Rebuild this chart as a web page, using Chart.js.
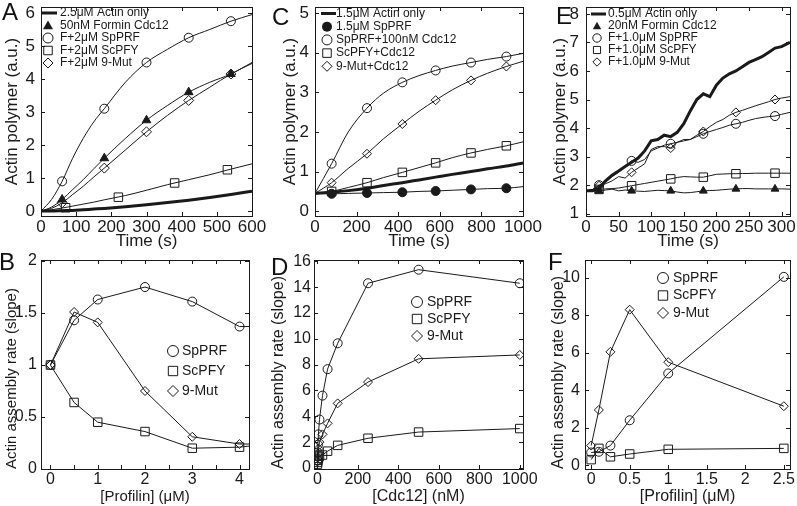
<!DOCTYPE html>
<html>
<head>
<meta charset="utf-8">
<script src="https://cdn.jsdelivr.net/npm/chart.js@4.4.1/dist/chart.umd.min.js"></script>
<style>
  body { margin: 0; background: #fff; }
  #fig { position: relative; width: 797px; height: 506px; overflow: hidden;
         font-family: "Liberation Sans", Arial, Helvetica, sans-serif; }
  #fig canvas { position: absolute; left: 0; top: 0; }
  .lab { position: absolute; font-size: 24px; line-height: 24px; color: #111; }
</style>
</head>
<body>
<div id="fig">
  <canvas id="cA" width="797" height="506"></canvas>
  <canvas id="cB" width="797" height="506"></canvas>
  <canvas id="cC" width="797" height="506"></canvas>
  <canvas id="cD" width="797" height="506"></canvas>
  <canvas id="cE" width="797" height="506"></canvas>
  <canvas id="cF" width="797" height="506"></canvas>
  <div class="lab" style="left:2px;top:0px">A</div>
  <div class="lab" style="left:-1px;top:250px">B</div>
  <div class="lab" style="left:272px;top:5px">C</div>
  <div class="lab" style="left:271px;top:255px">D</div>
  <div class="lab" style="left:556px;top:4px">E</div>
  <div class="lab" style="left:548px;top:250px">F</div>
</div>
<script>
// ---- Panel A: 2.5uM actin, 50nM Cdc12 ----
const aTime = [0, 30, 60, 90, 120, 150, 180, 240, 300, 360, 420, 480, 540, 600];
const aActinOnly = [0, 0, 0.01, 0.02, 0.04, 0.06, 0.08, 0.13, 0.19, 0.26, 0.33, 0.41, 0.5, 0.6];
const aFormin = [0, 0.12, 0.35, 0.65, 0.95, 1.28, 1.6, 2.2, 2.75, 3.2, 3.6, 3.9, 4.15, 4.5];
const aSpPRF = [0, 0.35, 0.9, 1.6, 2.2, 2.7, 3.1, 3.9, 4.5, 4.9, 5.25, 5.5, 5.75, 5.95];
const aScPFY = [0, 0.04, 0.09, 0.15, 0.21, 0.27, 0.34, 0.47, 0.63, 0.8, 0.95, 1.1, 1.27, 1.43];
const aNineMut = [0, 0.08, 0.25, 0.5, 0.75, 1.03, 1.3, 1.85, 2.4, 2.9, 3.35, 3.75, 4.15, 4.47];
const aMarkTime = [60, 180, 300, 420, 540];
const aFormin_m = [0.35, 1.6, 2.75, 3.6, 4.15];
const aSpPRF_m = [0.9, 3.1, 4.5, 5.25, 5.75];
const aNineMut_m = [0.25, 1.3, 2.4, 3.35, 4.15];
const aScPFYTime = [70, 220, 380, 530];
const aScPFY_m = [0.1, 0.42, 0.85, 1.25];
const aXTicks = [0, 100, 200, 300, 400, 500, 600];
const aYTicks = [0, 1, 2, 3, 4, 5, 6];

// ---- Panel C: 1.5uM actin, 100nM Cdc12 ----
const cTime = [0, 80, 160, 250, 330, 420, 500, 580, 660, 750, 830, 920, 1000];
const cActinOnly = [0.45, 0.48, 0.52, 0.58, 0.65, 0.72, 0.79, 0.86, 0.93, 1.0, 1.07, 1.14, 1.22];
const cSpPRF = [0.45, 0.44, 0.45, 0.46, 0.47, 0.48, 0.5, 0.51, 0.53, 0.55, 0.57, 0.58, 0.62];
const cSpPRFCdc12 = [0.45, 1.2, 2.0, 2.6, 2.98, 3.25, 3.42, 3.55, 3.66, 3.75, 3.83, 3.9, 3.98];
const cScPFYCdc12 = [0.45, 0.5, 0.6, 0.72, 0.85, 0.98, 1.1, 1.22, 1.35, 1.47, 1.56, 1.65, 1.75];
const cNineMutCdc12 = [0.45, 0.72, 1.08, 1.45, 1.83, 2.2, 2.52, 2.8, 3.06, 3.3, 3.48, 3.65, 3.78];
const cMarkTime = [80, 250, 420, 580, 750, 920];
const cSpPRF_m = [0.44, 0.46, 0.48, 0.51, 0.55, 0.58];
const cSpPRFCdc12_m = [1.2, 2.6, 3.25, 3.55, 3.75, 3.9];
const cScPFYCdc12_m = [0.5, 0.72, 0.98, 1.22, 1.47, 1.65];
const cNineMutCdc12_m = [0.72, 1.45, 2.2, 2.8, 3.3, 3.65];
const cXTicks = [0, 200, 400, 600, 800, 1000];
const cYTicks = [0, 1, 2, 3, 4, 5];

// ---- Panel E: 0.5uM actin, 20nM Cdc12 ----
const eTime = [0, 10, 20, 30, 40, 50, 60, 70, 80, 90, 100, 110, 120, 130, 140, 150,
  160, 170, 180, 190, 200, 210, 220, 230, 240, 250, 260, 270, 280, 290, 300, 313];
const eActinOnly = [1.8, 1.8, 1.9, 2.15, 2.35, 2.5, 2.65, 2.8, 2.95, 3.2,
  3.55, 3.6, 3.75, 3.7, 3.85, 4.15, 4.6, 5.0, 5.2, 5.1,
  5.5, 5.75, 5.9, 6.0, 6.15, 6.3, 6.4, 6.5, 6.65, 6.8, 6.85, 7.0];
const eFormin = [1.78, 1.79, 1.8, 1.83, 1.86, 1.8, 1.83, 1.8, 1.79, 1.78,
  1.8, 1.82, 1.81, 1.8, 1.76, 1.73, 1.74, 1.77, 1.8, 1.81,
  1.82, 1.84, 1.86, 1.87, 1.88, 1.88, 1.87, 1.87, 1.87, 1.87, 1.87, 1.86];
const eSpPRF = [1.8, 1.85, 2.0, 2.1, 2.3, 2.45, 2.65, 2.85, 2.8, 2.9,
  3.2, 3.3, 3.4, 3.45, 3.5, 3.55, 3.6, 3.7, 3.8, 3.88,
  3.95, 4.02, 4.1, 4.15, 4.2, 4.27, 4.33, 4.37, 4.4, 4.42, 4.48, 4.55];
const eScPFY = [1.8, 1.82, 1.85, 1.87, 1.88, 1.9, 1.94, 1.98, 2.02, 2.06,
  2.1, 2.14, 2.18, 2.22, 2.27, 2.3, 2.29, 2.28, 2.28, 2.33,
  2.38, 2.39, 2.4, 2.4, 2.41, 2.41, 2.42, 2.42, 2.42, 2.42, 2.42, 2.42];
const eNineMut = [1.8, 1.85, 1.98, 2.05, 2.15, 2.3, 2.25, 2.45, 2.6, 2.75,
  3.25, 3.35, 3.35, 3.3, 3.5, 3.6, 3.6, 3.75, 3.88, 4.05,
  4.2, 4.3, 4.45, 4.55, 4.62, 4.7, 4.78, 4.85, 4.92, 5.0, 5.05, 5.1];
const eMarkTime = [20, 70, 130, 180, 230, 290];
const eFormin_m = [1.8, 1.8, 1.8, 1.8, 1.87, 1.87];
const eSpPRF_m = [2.0, 2.85, 3.45, 3.8, 4.15, 4.42];
const eScPFY_m = [1.85, 1.98, 2.22, 2.28, 2.4, 2.42];
const eNineMut_m = [1.98, 2.45, 3.3, 3.88, 4.55, 5.0];
const eXTicks = [0, 50, 100, 150, 200, 250, 300];
const eYTicks = [1, 2, 3, 4, 5, 6, 7, 8];

// ---- Panel B: rate vs [profilin] ----
const bProfilin = [0, 0.5, 1, 2, 3, 4, 4.2];
const bSpPRF = [1, 1.43, 1.63, 1.75, 1.61, 1.37, 1.37];
const bScPFY = [1, 0.64, 0.45, 0.36, 0.2, 0.21, 0.22];
const bNineMut = [1, 1.51, 1.41, 0.75, 0.31, 0.24, 0.24];
const bXTicks = [0, 0.5, 1, 1.5, 2, 2.5, 3, 3.5, 4];
const bYTicks = [0, 0.5, 1, 1.5, 2];

// ---- Panel D: rate vs [Cdc12] ----
const dCdc12 = [0, 1, 2.5, 5, 10, 25, 50, 100, 250, 500, 1000];
const dSpPRF = [0.6, 1.2, 1.8, 2.6, 3.75, 5.6, 7.65, 9.65, 14.3, 15.35, 14.3];
const dScPFY = [0.3, 0.45, 0.6, 0.75, 0.9, 1.0, 1.3, 1.75, 2.3, 2.78, 3.05];
const dNineMut = [0.5, 0.8, 1.1, 1.5, 2.0, 2.6, 3.45, 5.0, 6.65, 8.45, 8.75];
const dXTicks = [0, 200, 400, 600, 800, 1000];
const dYTicks = [0, 2, 4, 6, 8, 10, 12, 14, 16];

// ---- Panel F: rate vs [profilin], 20nM Cdc12 ----
const fProfilin = [0, 0.1, 0.25, 0.5, 1, 2.5];
const fSpPRF = [0.68, 0.72, 1.05, 2.4, 4.9, 10.05];
const fScPFY = [0.3, 0.9, 0.45, 0.6, 0.85, 0.9];
const fNineMut = [1.05, 2.95, 6.05, 8.3, 5.5, 3.15];
const fXTicks = [0, 0.5, 1, 1.5, 2, 2.5];
const fYTicks = [0, 2, 4, 6, 8, 10];

const FONT = '"Liberation Sans", Arial, Helvetica, sans-serif';
const INK = '#1a1a1a';
Chart.defaults.font.family = FONT;
Chart.defaults.color = INK;

function xy(xs, ys) {
  return ys.map((v, i) => ({ x: xs[i], y: v }));
}

function curve(xs, ys, width, smooth) {
  return {
    data: xy(xs, ys), showLine: true, borderColor: INK, borderWidth: width,
    pointRadius: 0, tension: 0, cubicInterpolationMode: smooth ? 'monotone' : 'default'
  };
}

function marks(xs, ys, style, r, filled) {
  return {
    data: xy(xs, ys), showLine: false, pointStyle: style, pointRadius: r,
    pointBorderColor: INK, pointBorderWidth: 1, clip: 8,
    pointBackgroundColor: filled ? INK : 'rgba(0,0,0,0)'
  };
}

// line + markers; points past nMarks are only line continuation
function series(xs, ys, style, r, nMarks) {
  return {
    data: xy(xs, ys), showLine: true, borderColor: INK, borderWidth: 1, tension: 0,
    pointStyle: style, pointRadius: c => (c.dataIndex < nMarks ? r : 0),
    pointBorderColor: INK, pointBorderWidth: 1, pointBackgroundColor: 'rgba(0,0,0,0)'
  };
}

function drawSymbol(ctx, sym, x, y, r) {
  ctx.beginPath();
  ctx.lineWidth = 1;
  ctx.strokeStyle = INK;
  ctx.fillStyle = INK;
  if (sym === 'thick') {
    ctx.lineWidth = 3;
    ctx.moveTo(x - 6, y);
    ctx.lineTo(x + 9, y);
    ctx.stroke();
  } else if (sym === 'circle' || sym === 'dot') {
    ctx.arc(x, y, r, 0, Math.PI * 2);
    sym === 'dot' ? ctx.fill() : ctx.stroke();
  } else if (sym === 'square') {
    const s = r * 0.85;
    ctx.rect(x - s, y - s, 2 * s, 2 * s);
    ctx.stroke();
  } else if (sym === 'diamond') {
    ctx.moveTo(x, y - r); ctx.lineTo(x + r, y); ctx.lineTo(x, y + r); ctx.lineTo(x - r, y);
    ctx.closePath();
    ctx.stroke();
  } else if (sym === 'triangle') {
    ctx.moveTo(x, y - r); ctx.lineTo(x + r, y + r * 0.75); ctx.lineTo(x - r, y + r * 0.75);
    ctx.closePath();
    ctx.fill();
  }
}

function legendPlugin(L) {
  return {
    id: 'panelLegend',
    afterDraw(chart) {
      const ctx = chart.ctx;
      ctx.save();
      L.items.forEach((it, i) => {
        const y = L.y + i * L.dy;
        drawSymbol(ctx, it[0], L.sx, y, L.r);
        ctx.font = L.size + 'px ' + FONT;
        ctx.textBaseline = 'middle';
        ctx.fillStyle = INK;
        ctx.fillText(it[1], L.tx, y);
      });
      ctx.restore();
    }
  };
}

// axis box with inward tick marks on all four sides
const framePlugin = {
  id: 'frame',
  afterDatasetsDraw(chart) {
    const { ctx, chartArea: a, scales } = chart;
    const L = 4;
    ctx.save();
    ctx.strokeStyle = INK;
    ctx.lineWidth = 1;
    ctx.beginPath();
    scales.x.ticks.forEach(t => {
      const px = Math.round(scales.x.getPixelForValue(t.value)) + 0.5;
      ctx.moveTo(px, a.bottom); ctx.lineTo(px, a.bottom - L);
      ctx.moveTo(px, a.top); ctx.lineTo(px, a.top + L);
    });
    scales.y.ticks.forEach(t => {
      const py = Math.round(scales.y.getPixelForValue(t.value)) + 0.5;
      ctx.moveTo(a.left, py); ctx.lineTo(a.left + L, py);
      ctx.moveTo(a.right, py); ctx.lineTo(a.right - L, py);
    });
    ctx.stroke();
    ctx.strokeRect(Math.round(a.left) + 0.5, Math.round(a.top) + 0.5,
      Math.round(a.right - a.left), Math.round(a.bottom - a.top));
    ctx.restore();
  }
};

function makePanel(id, p) {
  const TS = p.tickSize, HS = p.titleSize;
  const scaleLeft = p.yTitleX - HS / 2;
  const scaleBottom = p.xTitleY + HS / 2;
  const xLabel = p.xLabel || (v => String(v));
  new Chart(document.getElementById(id), {
    type: 'line',
    data: { datasets: p.datasets },
    options: {
      responsive: false,
      animation: false,
      devicePixelRatio: 1,
      events: [],
      layout: { padding: { left: scaleLeft, top: p.box.t, right: 797 - p.box.r, bottom: 506 - scaleBottom } },
      plugins: { legend: { display: false }, tooltip: { enabled: false } },
      scales: {
        x: {
          type: 'linear', min: p.xMin, max: p.xMax,
          grid: { display: false, drawTicks: false }, border: { display: false },
          ticks: { autoSkip: false, maxRotation: 0, padding: 1, font: { size: TS }, color: INK, callback: xLabel },
          title: { display: true, text: p.xTitle, font: { size: HS, lineHeight: 1 }, padding: 0, color: INK },
          afterBuildTicks: s => { s.ticks = p.xTicks.map(v => ({ value: v })); },
          afterFit: s => {
            s.height = scaleBottom - p.box.b;
            s.paddingLeft = 0; s.paddingRight = 0;
          }
        },
        y: {
          type: 'linear', min: p.yMin, max: p.yMax,
          grid: { display: false, drawTicks: false }, border: { display: false },
          ticks: { autoSkip: false, padding: p.yPad, font: { size: TS }, color: INK, callback: v => String(v) },
          title: { display: true, text: p.yTitle, align: p.yAlign || 'center', font: { size: HS, lineHeight: 1 }, padding: 0, color: INK },
          afterBuildTicks: s => { s.ticks = p.yTicks.map(v => ({ value: v })); },
          afterFit: s => {
            s.width = p.box.l - scaleLeft;
            s.paddingTop = 0; s.paddingBottom = 0;
          }
        }
      }
    },
    plugins: [framePlugin, legendPlugin(p.legend)]
  });
}

const POLY = 'Actin polymer (a.u.)';
const RATE = 'Actin assembly rate (slope)';

makePanel('cA', {
  box: { l: 41, t: 4, r: 252, b: 216 }, xMin: 0, xMax: 600, yMin: -0.15, yMax: 6.18,
  xTicks: aXTicks, yTicks: aYTicks, xTitle: 'Time (s)', yTitle: POLY,
  tickSize: 17, titleSize: 17, yTitleX: 12, xTitleY: 241, yPad: 6,
  datasets: [
    curve(aTime, aActinOnly, 3, true),
    curve(aTime, aFormin, 1, true),
    curve(aTime, aSpPRF, 1, true),
    curve(aTime, aScPFY, 1, true),
    curve(aTime, aNineMut, 1, true),
    marks(aMarkTime, aFormin_m, 'triangle', 5, true),
    marks(aMarkTime, aSpPRF_m, 'circle', 4.5, false),
    marks(aScPFYTime, aScPFY_m, 'rect', 6, false),
    marks(aMarkTime, aNineMut_m, 'rectRot', 5, false)
  ],
  legend: { sx: 48, tx: 60, y: 13, dy: 12.5, r: 5, size: 12, items: [
    ['thick', '2.5μM Actin only'], ['triangle', '50nM Formin Cdc12'], ['circle', 'F+2μM SpPRF'],
    ['square', 'F+2μM ScPFY'], ['diamond', 'F+2μM 9-Mut']] }
});

makePanel('cC', {
  box: { l: 315, t: 4, r: 523, b: 216 }, xMin: 0, xMax: 1000, yMin: -0.12, yMax: 5.15,
  xTicks: cXTicks, yTicks: cYTicks, xTitle: 'Time (s)', yTitle: POLY,
  tickSize: 17, titleSize: 17, yTitleX: 290, xTitleY: 241, yPad: 6,
  datasets: [
    curve(cTime, cActinOnly, 3, true),
    curve(cTime, cSpPRF, 1, true),
    curve(cTime, cSpPRFCdc12, 1, true),
    curve(cTime, cScPFYCdc12, 1, true),
    curve(cTime, cNineMutCdc12, 1, true),
    marks(cMarkTime, cSpPRF_m, 'circle', 4.5, true),
    marks(cMarkTime, cSpPRFCdc12_m, 'circle', 4.5, false),
    marks(cMarkTime, cScPFYCdc12_m, 'rect', 6, false),
    marks(cMarkTime, cNineMutCdc12_m, 'rectRot', 4.5, false)
  ],
  legend: { sx: 327, tx: 336, y: 13.5, dy: 13.2, r: 5, size: 12, items: [
    ['thick', '1.5μM Actin only'], ['dot', '1.5μM SpPRF'], ['circle', 'SpPRF+100nM Cdc12'],
    ['square', 'ScPFY+Cdc12'], ['diamond', '9-Mut+Cdc12']] }
});

makePanel('cE', {
  box: { l: 586, t: 4, r: 793, b: 216 }, xMin: 0, xMax: 313, yMin: 0.92, yMax: 8.24,
  xTicks: eXTicks, yTicks: eYTicks, xTitle: 'Time (s)', yTitle: POLY,
  tickSize: 17, titleSize: 17, yTitleX: 560, xTitleY: 241, yPad: 7,
  datasets: [
    curve(eTime, eActinOnly, 3, false),
    curve(eTime, eFormin, 1, false),
    curve(eTime, eSpPRF, 1, false),
    curve(eTime, eScPFY, 1, false),
    curve(eTime, eNineMut, 1, false),
    marks(eMarkTime, eFormin_m, 'triangle', 4.5, true),
    marks(eMarkTime, eSpPRF_m, 'circle', 4.5, false),
    marks(eMarkTime, eScPFY_m, 'rect', 6, false),
    marks(eMarkTime, eNineMut_m, 'rectRot', 4.5, false)
  ],
  legend: { sx: 597, tx: 608, y: 14, dy: 12, r: 4.2, size: 12, items: [
    ['thick', '0.5μM Actin only'], ['triangle', '20nM Formin Cdc12'], ['circle', 'F+1.0μM SpPRF'],
    ['square', 'F+1.0μM ScPFY'], ['diamond', 'F+1.0μM 9-Mut']] }
});

makePanel('cB', {
  box: { l: 41, t: 260, r: 249, b: 469 }, xMin: -0.2, xMax: 4.2, yMin: 0, yMax: 2.01,
  xTicks: bXTicks, yTicks: bYTicks, xTitle: '[Profilin] (μM)', yTitle: RATE, yAlign: 'start',
  xLabel: v => (Number.isInteger(v) ? String(v) : ''),
  tickSize: 16, titleSize: 15, yTitleX: 12, xTitleY: 497, yPad: 4,
  datasets: [
    series(bProfilin, bSpPRF, 'circle', 4.5, 6),
    series(bProfilin, bScPFY, 'rect', 6, 6),
    series(bProfilin, bNineMut, 'rectRot', 4.5, 6)
  ],
  legend: { sx: 173, tx: 182, y: 351, dy: 20, r: 5.5, size: 14, items: [
    ['circle', 'SpPRF'], ['square', 'ScPFY'], ['diamond', '9-Mut']] }
});

makePanel('cD', {
  box: { l: 314, t: 260, r: 523, b: 469 }, xMin: -17, xMax: 1016, yMin: -0.08, yMax: 16.1,
  xTicks: dXTicks, yTicks: dYTicks, xTitle: '[Cdc12] (nM)', yTitle: RATE, yAlign: 'start',
  tickSize: 16, titleSize: 16, yTitleX: 279, xTitleY: 497, yPad: 3,
  datasets: [
    series(dCdc12, dSpPRF, 'circle', 4.5, 11),
    series(dCdc12, dScPFY, 'rect', 6, 11),
    series(dCdc12, dNineMut, 'rectRot', 4.5, 11)
  ],
  legend: { sx: 417, tx: 427, y: 302, dy: 17, r: 5.5, size: 14, items: [
    ['circle', 'SpPRF'], ['square', 'ScPFY'], ['diamond', '9-Mut']] }
});

makePanel('cF', {
  box: { l: 585, t: 260, r: 793, b: 469 }, xMin: -0.08, xMax: 2.58, yMin: -0.2, yMax: 10.95,
  xTicks: fXTicks, yTicks: fYTicks, xTitle: '[Profilin] (μM)', yTitle: RATE, yAlign: 'start',
  tickSize: 16, titleSize: 16, yTitleX: 559, xTitleY: 497, yPad: 5,
  datasets: [
    series(fProfilin, fSpPRF, 'circle', 4.5, 6),
    series(fProfilin, fScPFY, 'rect', 6, 6),
    series(fProfilin, fNineMut, 'rectRot', 4.5, 6)
  ],
  legend: { sx: 663, tx: 673, y: 278, dy: 17.5, r: 5.5, size: 14, items: [
    ['circle', 'SpPRF'], ['square', 'ScPFY'], ['diamond', '9-Mut']] }
});
</script>
</body>
</html>
